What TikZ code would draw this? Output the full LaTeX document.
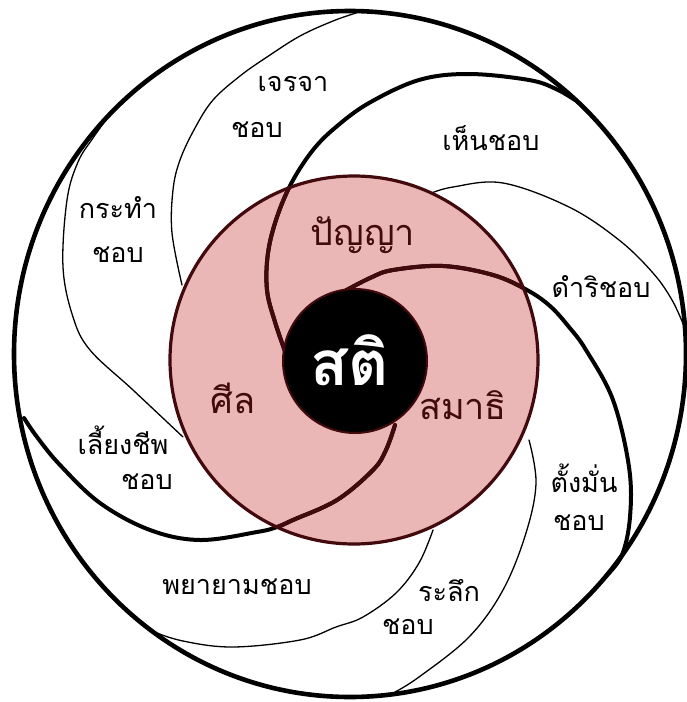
\documentclass[tikz,border=0pt]{standalone}
\usepackage{fontspec}
\newfontfamily\thai[Script=Thai]{Loma}
\definecolor{pinkfill}{RGB}{234,182,182}
\definecolor{darkmaroon}{RGB}{66,10,12}
\newcommand\spiralA{plot[smooth,tension=0.6] coordinates {(286,354) (275,322) (267,290) (268,253) (277,217) (292,182) (313,150) (336,127) (369,103) (419,80) (469,74) (529,80) (556,89) (575,100)}}
\newcommand\spiralB{plot[smooth,tension=0.6] coordinates {(343,292) (370,278) (393,270) (443,266) (493,275) (527,290) (550,306) (569,327) (586,350) (613,400) (629,467) (630,517) (622,555) (606,576)}}
\newcommand\spiralC{plot[smooth,tension=0.6] coordinates {(395,425) (386,450) (373,470) (337,500) (293,520) (277,527) (257,532) (200,540) (150,530) (100,503) (60,465) (37,437) (24,418)}}
\begin{document}
\begin{tikzpicture}[x=1pt,y=-1pt,
  outerline/.style={line width=4.6pt},
  thickcurve/.style={line width=4pt,line cap=round},
  thincurve/.style={line width=1.3pt,line cap=round},
  lbl/.style={font=\thai\fontsize{27}{30}\selectfont, inner sep=0pt},
  core/.style={font=\thai\fontsize{36}{40}\selectfont, text=darkmaroon, inner sep=0pt},
]
\useasboundingbox (0,0) rectangle (686,702);
\fill[white] (0,0) rectangle (686,702);

% outer circle
\draw[outerline] (350,354) ellipse[x radius=336pt, y radius=343pt];

% thin spiral lines
\draw[thincurve] plot[smooth,tension=0.6] coordinates {(182,285) (172,233) (173,190) (180,160) (195,128) (213,100) (240,76) (267,57) (300,36) (333,21) (356,13)};
\draw[thincurve] plot[smooth,tension=0.6] coordinates {(429,194) (453,187) (503,183) (569,207) (619,240) (653,273) (672,300) (684,326)};
\draw[thincurve] plot[smooth,tension=0.6] coordinates {(529,440) (536,483) (526,533) (503,590) (469,637) (419,677) (395,692)};
\draw[thincurve] plot[smooth,tension=0.6] coordinates {(433,530) (419,563) (396,593) (363,617) (336,627) (300,640) (233,647) (183,641) (150,630) (140,622)};
\draw[thincurve] plot[smooth,tension=0.6] coordinates {(183,437) (133,390) (90,350) (73,317) (63,267) (67,200) (78,162) (93,138) (108,117)};

% pink ring
\fill[pinkfill] (354,360) circle[radius=184pt];

% thick spiral lines
\draw[thickcurve] \spiralA;
\draw[thickcurve] \spiralB;
\draw[thickcurve] \spiralC;
\begin{scope}
  \clip (354,360) circle[radius=184pt];
  \draw[thickcurve,darkmaroon] \spiralA;
  \draw[thickcurve,darkmaroon] \spiralB;
  \draw[thickcurve,darkmaroon] \spiralC;
\end{scope}
\draw[line width=3.2pt,darkmaroon] (354,360) circle[radius=184pt];

% centre
\filldraw[fill=black,draw=darkmaroon,line width=2pt] (355,361) circle[radius=72pt];
\node[font=\thai\bfseries\fontsize{62}{66}\selectfont,text=white,inner sep=0pt] (sati) at (350,360) {สติ};

% inner labels
\node[core] (panya) at (363,235) {ปัญญา};
\node[core] (sila) at (233,398) {ศีล};
\node[core] (samadhi) at (463,405) {สมาธิ};

% outer labels
\node[lbl] (jeraja) at (293,84) {เจรจา};
\node[lbl] (jerajab) at (257,130) {ชอบ};
\node[lbl] (hen) at (491,138) {เห็นชอบ};
\node[lbl] (kratham) at (118,208) {กระทำ};
\node[lbl] (krathamb) at (118,255) {ชอบ};
\node[lbl] (damri) at (601,287) {ดำริชอบ};
\node[lbl] (liang) at (123,440) {เลี้ยงชีพ};
\node[lbl] (liangb) at (147,482) {ชอบ};
\node[lbl] (tang) at (584,478) {ตั้งมั่น};
\node[lbl] (tangb) at (579,523) {ชอบ};
\node[lbl] (phayayam) at (237,587) {พยายามชอบ};
\node[lbl] (raluek) at (449,590) {ระลึก};
\node[lbl] (ralueb) at (408,627) {ชอบ};
\end{tikzpicture}
\end{document}
